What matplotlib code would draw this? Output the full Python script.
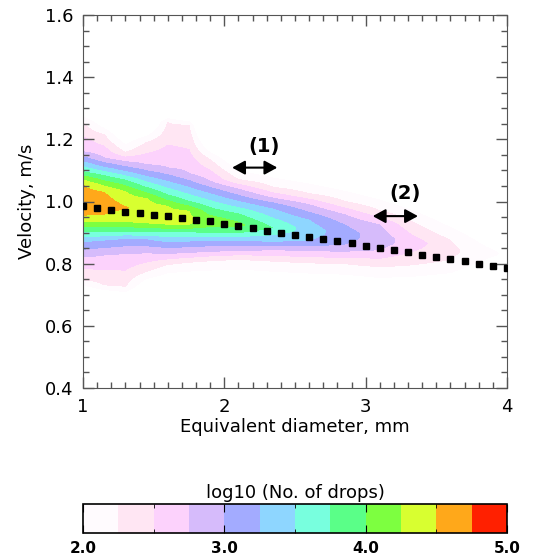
import numpy as np
import matplotlib.pyplot as plt
from matplotlib.colors import ListedColormap, BoundaryNorm
from matplotlib.ticker import MultipleLocator

# columns of the drop-count field (equivalent diameter, mm)
diam_cols = [1.0, 1.15, 1.3, 1.45, 1.6, 1.75, 1.9, 2.1, 2.35, 2.6, 2.85, 3.1, 3.35, 3.6, 3.85, 4.0]
ridge_vel = [1.0, 0.995, 0.98, 0.97, 0.955, 0.945, 0.935, 0.925, 0.915, 0.905, 0.895, 0.88, 0.865, 0.845, 0.835, 0.83]
peak_log = [4.72, 4.62, 4.52, 4.42, 4.35, 4.3, 4.2, 4.08, 3.75, 3.4, 3.12, 2.9, 2.62, 2.32, 2.1, 1.95]

nan = np.nan
# velocity where each contour level is crossed, above / below the ridge
up_225 = [1.257, 1.215, 1.158, 1.19, 1.255, 1.245, 1.135, 1.07, 1.045, 1.025, 1.0, 0.97, 0.93, 0.875, nan, nan]
low_225 = [0.748, 0.732, 0.726, 0.775, 0.798, 0.805, 0.81, 0.815, 0.808, 0.803, 0.8, 0.79, 0.797, 0.812, nan, nan]
up_275 = [1.16, 1.14, 1.128, 1.118, 1.108, 1.09, 1.065, 1.04, 1.01, 0.99, 0.958, 0.925, nan, nan, nan, nan]
low_275 = [0.822, 0.828, 0.833, 0.835, 0.833, 0.836, 0.84, 0.842, 0.845, 0.842, 0.84, 0.845, nan, nan, nan, nan]
up_300 = [nan, nan, nan, nan, nan, nan, nan, nan, 0.995, 0.965, 0.925, nan, nan, nan, nan, nan]
low_300 = [nan, nan, nan, nan, nan, nan, nan, nan, 0.858, 0.858, 0.862, nan, nan, nan, nan, nan]
up_325 = [1.128, 1.11, 1.096, 1.08, 1.064, 1.045, 1.025, 1.0, 0.975, 0.94, nan, nan, nan, nan, nan, nan]
low_325 = [0.871, 0.876, 0.882, 0.88, 0.871, 0.873, 0.875, 0.875, 0.872, 0.875, nan, nan, nan, nan, nan, nan]
up_375 = [1.096, 1.083, 1.069, 1.045, 1.021, 1.0, 0.98, 0.96, nan, nan, nan, nan, nan, nan, nan, nan]
low_375 = [0.903, 0.903, 0.903, 0.903, 0.903, 0.903, 0.9, 0.9, nan, nan, nan, nan, nan, nan, nan, nan]
up_425 = [1.069, 1.05, 1.032, 1.01, 0.985, 0.97, nan, nan, nan, nan, nan, nan, nan, nan, nan, nan]
low_425 = [0.935, 0.935, 0.935, 0.93, 0.925, 0.925, nan, nan, nan, nan, nan, nan, nan, nan, nan, nan]
up_450 = [1.053, 1.03, nan, nan, nan, nan, nan, nan, nan, nan, nan, nan, nan, nan, nan, nan]
low_450 = [0.956, 0.958, nan, nan, nan, nan, nan, nan, nan, nan, nan, nan, nan, nan, nan, nan]

# mean velocity curve (dotted)
fit_diam = [1.0, 1.1, 1.2, 1.3, 1.4, 1.5, 1.6, 1.7, 1.8, 1.9, 2.0, 2.1, 2.2, 2.3, 2.4, 2.5,
            2.6, 2.7, 2.8, 2.9, 3.0, 3.1, 3.2, 3.3, 3.4, 3.5, 3.6, 3.7, 3.8, 3.9, 4.0]
fit_vel = [0.985, 0.978, 0.972, 0.967, 0.963, 0.958, 0.953, 0.946, 0.941, 0.936, 0.929, 0.921, 0.914,
           0.906, 0.9, 0.893, 0.887, 0.88, 0.873, 0.866, 0.858, 0.851, 0.843, 0.836, 0.828, 0.821,
           0.814, 0.807, 0.8, 0.792, 0.785]

cbar_colors = ['#fffbfe', '#ffe6f3', '#fcd2fc', '#d6bbfb', '#a3abff', '#8ed6ff',
               '#78ffde', '#5aff88', '#7dff40', '#d8ff30', '#ffa81a', '#ff2000']
cbar_levels = np.arange(2.0, 5.01, 0.25)

levels = [2.25, 2.75, 3.0, 3.25, 3.75, 4.25, 4.5]
ups = [up_225, up_275, up_300, up_325, up_375, up_425, up_450]
lows = [low_225, low_275, low_300, low_325, low_375, low_425, low_450]

vel_grid = np.arange(0.3, 1.705, 0.004)
field = np.zeros((len(vel_grid), len(diam_cols)))
for j in range(len(diam_cols)):
    pts = [(ridge_vel[j] - 0.4, 0.0), (ridge_vel[j], peak_log[j]), (ridge_vel[j] + 0.4, 0.0)]
    for lev, up, lo in zip(levels, ups, lows):
        if not np.isnan(up[j]):
            pts.append((up[j], lev))
        if not np.isnan(lo[j]):
            pts.append((lo[j], lev))
    pts.sort()
    v, z = zip(*pts)
    field[:, j] = np.interp(vel_grid, v, z, left=0.0, right=0.0)

cmap = ListedColormap(cbar_colors)
norm = BoundaryNorm(cbar_levels, cmap.N)

fig = plt.figure(figsize=(5.34, 5.58), dpi=100)
ax = fig.add_axes([83 / 534, 170 / 558, 424 / 534, 373 / 558])
cs = ax.contourf(diam_cols, vel_grid, field, levels=cbar_levels, cmap=cmap, norm=norm)
ax.plot(fit_diam, fit_vel, 's', color='black', markersize=5, zorder=5)

arrow = dict(arrowstyle='<|-|>,head_length=0.55,head_width=0.3', color='black', lw=1.5,
             mutation_scale=14, shrinkA=0, shrinkB=0)
ax.annotate('', xy=(2.055, 1.109), xytext=(2.375, 1.109), arrowprops=arrow)
ax.text(2.28, 1.178, '(1)', ha='center', va='center', fontsize=14, fontweight='bold')
ax.annotate('', xy=(3.05, 0.953), xytext=(3.37, 0.953), arrowprops=arrow)
ax.text(3.28, 1.027, '(2)', ha='center', va='center', fontsize=14, fontweight='bold')

ax.set_xlim(1, 4)
ax.set_ylim(0.4, 1.6)
ax.xaxis.set_major_locator(MultipleLocator(1))
ax.xaxis.set_minor_locator(MultipleLocator(0.1))
ax.yaxis.set_major_locator(MultipleLocator(0.2))
ax.yaxis.set_minor_locator(MultipleLocator(0.05))
ax.yaxis.set_major_formatter(plt.FormatStrFormatter('%.1f'))
ax.tick_params(which='both', direction='in', top=True, right=True, color='#555555')
ax.tick_params(which='major', length=8, width=1, labelsize=13, pad=7)
ax.tick_params(which='minor', length=4, width=1)
for s in ax.spines.values():
    s.set_color('#555555')
ax.set_xlabel('Equivalent diameter, mm', fontsize=13, labelpad=2)
ax.set_ylabel('Velocity, m/s', fontsize=13, labelpad=6)

cax = fig.add_axes([83 / 534, 25 / 558, 424 / 534, 29 / 558])
cb = fig.colorbar(cs, cax=cax, orientation='horizontal', ticks=[2.0, 3.0, 4.0, 5.0])
cb.ax.xaxis.set_major_formatter(plt.FormatStrFormatter('%.1f'))
cax.set_xticks([2.5, 3.5, 4.5], minor=True)
cax.tick_params(which='both', direction='in', top=True, bottom=True, color='black')
cax.tick_params(which='major', length=6, labelsize=11, pad=6)
cax.tick_params(which='minor', length=3)
for lab in cax.get_xticklabels():
    lab.set_fontweight('bold')
cb.outline.set_linewidth(1.2)
cax.set_title('log10 (No. of drops)', fontsize=13, pad=4)

fig.savefig('out.png', dpi=100)
